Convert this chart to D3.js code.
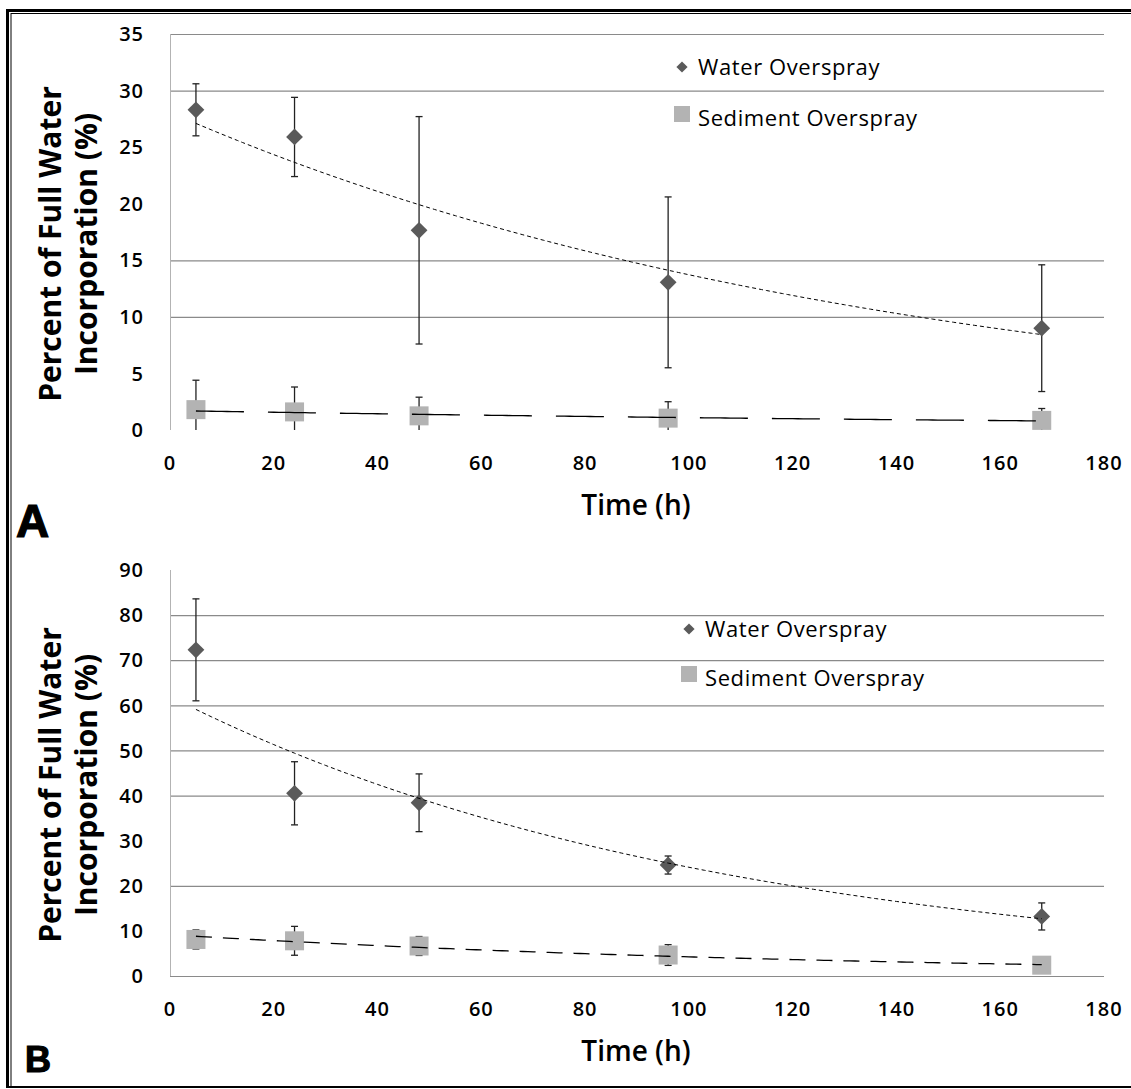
<!DOCTYPE html>
<html lang="en">
<head>
	<meta charset="UTF-8">
	<title>Overspray incorporation</title>
	<script src="https://d3js.org/d3.v7.min.js"></script>
	<style>
		body { margin: 0; background: #fff; }
		text { font-family: "Open Sans", "DejaVu Sans", sans-serif; fill: #000; }
	</style>
</head>
<body>

	<svg width="1131" height="1089"></svg>

	<script>

		// data
		var timeHours = [5, 24, 48, 96, 168];

		var waterA    = [28.3, 25.9, 17.65, 13.05, 9.0];
		var waterAErr = [2.3, 3.5, 10.05, 7.55, 5.6];
		var sedA      = [1.8, 1.6, 1.25, 1.05, 0.85];
		var sedAErr   = [2.6, 2.2, 1.65, 1.45, 1.05];

		var waterB    = [72.3, 40.5, 38.4, 24.6, 13.2];
		var waterBErr = [11.3, 7.0, 6.4, 2.0, 3.0];
		var sedB      = [8.1, 7.8, 6.65, 4.65, 2.4];
		var sedBErr   = [2.1, 3.2, 2.1, 2.3, 0.5];

		var xTicks   = [0, 20, 40, 60, 80, 100, 120, 140, 160, 180];
		var yTicksA  = [0, 5, 10, 15, 20, 25, 30, 35];
		var yTicksB  = [0, 10, 20, 30, 40, 50, 60, 70, 80, 90];
		// only these gridlines show in the figure
		var gridA    = [10, 15, 30, 35];
		var gridB    = [0, 20, 40, 50, 60, 70, 80];

		var seriesNames = ["Water Overspray", "Sediment Overspray"];

		var svg = d3.select("svg");

		// outer frame (double line top & left)
		svg.append("line").attr("x1", 8).attr("y1", 10.5).attr("x2", 1131).attr("y2", 10.5)
			.attr("stroke", "#000").attr("stroke-width", 3);
		svg.append("line").attr("x1", 11).attr("y1", 13.5).attr("x2", 1131).attr("y2", 13.5)
			.attr("stroke", "#000").attr("stroke-width", 1);
		svg.append("line").attr("x1", 7.5).attr("y1", 9).attr("x2", 7.5).attr("y2", 1088)
			.attr("stroke", "#000").attr("stroke-width", 3);
		svg.append("line").attr("x1", 11).attr("y1", 13).attr("x2", 11).attr("y2", 1086)
			.attr("stroke", "#000").attr("stroke-width", 1);
		svg.append("line").attr("x1", 7).attr("y1", 1087).attr("x2", 1131).attr("y2", 1087)
			.attr("stroke", "#000").attr("stroke-width", 2);

		// exponential trendline, least squares on ln(y)
		function expFit(xs, ys) {
			var lx = d3.mean(xs);
			var ly = d3.mean(ys, function(v){ return Math.log(v); });
			var sxy = 0, sxx = 0;
			xs.forEach(function(x, i){
				sxy += (x - lx) * (Math.log(ys[i]) - ly);
				sxx += (x - lx) * (x - lx);
			});
			var b = sxy / sxx;
			var a = Math.exp(ly - b * lx);
			return function(x){ return a * Math.exp(b * x); };
		}

		function drawPanel(p) {

			var x = d3.scaleLinear().domain([0, 180]).range([170, 1104]);
			var y = d3.scaleLinear().domain([0, p.yMax]).range([p.bottom, p.top]);

			var g = svg.append("g");

			// gridlines
			g.selectAll(".grid")
				.data(p.grid)
				.enter()
				.append("line")
				.attr("x1", x(0))
				.attr("x2", x(180))
				.attr("y1", function(d){ return y(d) + 0.5; })
				.attr("y2", function(d){ return y(d) + 0.5; })
				.attr("stroke", "#8a8a8a")
				.attr("stroke-width", 1.2);

			// y axis line
			g.append("line")
				.attr("x1", x(0) + 0.5).attr("x2", x(0) + 0.5)
				.attr("y1", y(p.yMax)).attr("y2", y(0))
				.attr("stroke", "#b3b3b3")
				.attr("stroke-width", 1);

			// y tick labels
			g.selectAll(".ytick")
				.data(p.yTicks)
				.enter()
				.append("text")
				.attr("x", 144)
				.attr("y", function(d){ return y(d); })
				.attr("dy", "0.36em")
				.attr("text-anchor", "end")
				.style("font-size", "20px")
				.style("font-weight", "600")
				.style("letter-spacing", "1px")
				.text(function(d){ return d; });

			// x tick labels
			g.selectAll(".xtick")
				.data(xTicks)
				.enter()
				.append("text")
				.attr("x", function(d){ return x(d); })
				.attr("y", p.bottom + 33)
				.attr("dy", "0.36em")
				.attr("text-anchor", "middle")
				.style("font-size", "20px")
				.style("font-weight", "600")
				.style("letter-spacing", "1px")
				.text(function(d){ return d; });

			// x axis title
			g.append("text")
				.attr("x", 636)
				.attr("y", p.bottom + 85)
				.attr("text-anchor", "middle")
				.style("font-size", "28px")
				.style("font-weight", "600")
				.text("Time (h)");

			// y axis title, two lines
			var cy = (p.top + p.bottom) / 2 + 12;
			g.append("text")
				.attr("transform", "translate(61," + cy + ") rotate(-90)")
				.attr("text-anchor", "middle")
				.style("font-size", "30px")
				.style("font-weight", "700")
				.text("Percent of Full Water");
			g.append("text")
				.attr("transform", "translate(97," + cy + ") rotate(-90)")
				.attr("text-anchor", "middle")
				.style("font-size", "30px")
				.style("font-weight", "700")
				.text("Incorporation (%)");

			// panel letter
			g.append("text")
				.attr("x", p.letterX)
				.attr("y", p.letterY)
				.style("font-family", "'Liberation Sans', Arial, sans-serif")
				.style("font-size", p.letterSize + "px")
				.style("font-weight", "bold")
				.style("stroke", "#000")
				.style("stroke-width", "1.2px")
				.text(p.letter);

			var water = timeHours.map(function(t, i){ return {t: t, v: p.water[i], e: p.waterErr[i]}; });
			var sed = timeHours.map(function(t, i){ return {t: t, v: p.sed[i], e: p.sedErr[i]}; });

			// error bars (behind markers)
			[water, sed].forEach(function(s){
				var eb = g.selectAll(null)
					.data(s)
					.enter()
					.append("g")
					.attr("stroke", "#222")
					.attr("stroke-width", 1.3);
				eb.append("line")
					.attr("x1", function(d){ return x(d.t); })
					.attr("x2", function(d){ return x(d.t); })
					.attr("y1", function(d){ return y(d.v + d.e); })
					.attr("y2", function(d){ return y(Math.max(0, d.v - d.e)); });
				eb.append("line")
					.attr("x1", function(d){ return x(d.t) - 3.5; })
					.attr("x2", function(d){ return x(d.t) + 3.5; })
					.attr("y1", function(d){ return y(d.v + d.e); })
					.attr("y2", function(d){ return y(d.v + d.e); });
				eb.filter(function(d){ return d.v - d.e > 0; })
					.append("line")
					.attr("x1", function(d){ return x(d.t) - 3.5; })
					.attr("x2", function(d){ return x(d.t) + 3.5; })
					.attr("y1", function(d){ return y(d.v - d.e); })
					.attr("y2", function(d){ return y(d.v - d.e); });
			});

			// markers
			g.selectAll(".sq")
				.data(sed)
				.enter()
				.append("rect")
				.attr("x", function(d){ return x(d.t) - 9.5; })
				.attr("y", function(d){ return y(d.v) - 9.5; })
				.attr("width", 19)
				.attr("height", 19)
				.attr("fill", "#b3b3b3");

			g.selectAll(".dia")
				.data(water)
				.enter()
				.append("path")
				.attr("d", d3.symbol().type(d3.symbolDiamond2).size(180))
				.attr("transform", function(d){ return "translate(" + x(d.t) + "," + y(d.v) + ")"; })
				.attr("fill", "#5a5a5a");

			// trendlines
			var tr = d3.range(5, 168.01, 1);
			var fw = expFit(timeHours, p.water);
			var fs = expFit(timeHours, p.sed);
			var line = d3.line()
				.x(function(d){ return x(d[0]); })
				.y(function(d){ return y(d[1]); });

			g.append("path")
				.datum(tr.map(function(t){ return [t, fw(t)]; }))
				.attr("d", line)
				.attr("fill", "none")
				.attr("stroke", "#000")
				.attr("stroke-width", 1)
				.attr("stroke-dasharray", "4,3");

			g.append("path")
				.datum(tr.map(function(t){ return [t, fs(t)]; }))
				.attr("d", line)
				.attr("fill", "none")
				.attr("stroke", "#000")
				.attr("stroke-width", 1.3)
				.attr("stroke-dasharray", p.sedDash);

			// legend
			var lg = g.append("g");
			lg.append("path")
				.attr("d", d3.symbol().type(d3.symbolDiamond2).size(80))
				.attr("transform", "translate(" + p.legX + "," + (p.legY - 4) + ")")
				.attr("fill", "#5a5a5a");
			lg.append("rect")
				.attr("x", p.legX - 8)
				.attr("y", p.legY + p.legGap - 16)
				.attr("width", 16)
				.attr("height", 16)
				.attr("fill", "#b3b3b3");
			lg.selectAll("text")
				.data(seriesNames)
				.enter()
				.append("text")
				.attr("x", p.legX + 16)
				.attr("y", function(d, i){ return p.legY + 4 + i * p.legGap; })
				.style("font-size", "22px")
				.style("letter-spacing", "0.6px")
				.text(function(d){ return d; });
		}

		drawPanel({
			top: 34, bottom: 430, yMax: 35, yTicks: yTicksA, grid: gridA,
			water: waterA, waterErr: waterAErr, sed: sedA, sedErr: sedAErr,
			sedDash: "48,24",
			legX: 682, legY: 71, legGap: 51,
			letter: "A", letterX: 16, letterY: 537, letterSize: 46
		});

		drawPanel({
			top: 570, bottom: 976, yMax: 90, yTicks: yTicksB, grid: gridB,
			water: waterB, waterErr: waterBErr, sed: sedB, sedErr: sedBErr,
			sedDash: "16,11",
			legX: 689, legY: 633, legGap: 49,
			letter: "B", letterX: 25, letterY: 1072, letterSize: 36
		});

	</script>

</body>
</html>
